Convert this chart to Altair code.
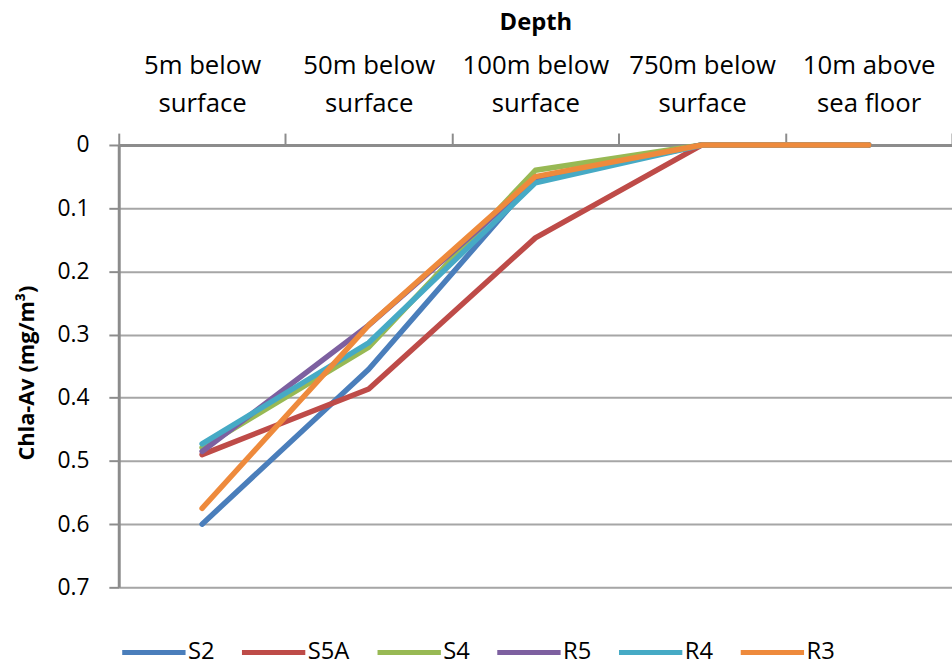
import altair as alt
import pandas as pd

# Categories (two-line labels)
depth_line1 = ["5m below", "50m below", "100m below", "750m below", "10m above"]
depth_line2 = ["surface", "surface", "surface", "surface", "sea floor"]
depths = [f"{a} {b}" for a, b in zip(depth_line1, depth_line2)]

# Series
series = ["S2", "S5A", "S4", "R5", "R4", "R3"]
s2 = [0.600, 0.355, 0.052, 0.0, 0.0]
s5a = [0.490, 0.386, 0.147, 0.0, 0.0]
s4 = [0.479, 0.320, 0.040, 0.0, 0.0]
r5 = [0.485, 0.285, 0.055, 0.0, 0.0]
r4 = [0.473, 0.313, 0.060, 0.0, 0.0]
r3 = [0.575, 0.285, 0.050, 0.0, 0.0]
values = [s2, s5a, s4, r5, r4, r3]

colors = ["#4A7EBB", "#BE4B48", "#98B954", "#7D60A0", "#46AAC5", "#EE8A3C"]
y_ticks = [0, 0.1, 0.2, 0.3, 0.4, 0.5, 0.6, 0.7]

rows = []
for name, vals in zip(series, values):
    for d, v in zip(depths, vals):
        rows.append({"Depth": d, "Station": name, "Chla": v})
df = pd.DataFrame(rows)

# label expression to break labels into two lines
expr = "''"
for d, a, b in reversed(list(zip(depths, depth_line1, depth_line2))):
    expr = f"datum.value == '{d}' ? ['{a}', '{b}'] : ({expr})"

FONT = "Open Sans"
GRAY = "#8C8C8C"

chart = alt.Chart(df).mark_line(
    strokeWidth=5.5, strokeCap="round", strokeJoin="round"
).encode(
    x=alt.X(
        "Depth:N",
        sort=depths,
        scale=alt.Scale(type="band", paddingInner=0, paddingOuter=0),
        axis=alt.Axis(
            orient="top",
            title="Depth",
            titleFont=FONT,
            titleFontSize=24,
            titleFontWeight="bold",
            titleColor="#000000",
            titleX=421,
            titleY=-124,
            titleBaseline="middle",
            titleAlign="center",
            labelExpr=expr,
            labelAngle=0,
            labelFont=FONT,
            labelFontSize=26,
            labelLineHeight=38,
            labelColor="#000000",
            labelPadding=55,
            tickBand="extent",
            tickSize=12,
            tickColor=GRAY,
            tickWidth=2,
            domainColor=GRAY,
            domainWidth=3,
            grid=False,
        ),
    ),
    y=alt.Y(
        "Chla:Q",
        scale=alt.Scale(domain=[0, 0.7], reverse=True, nice=False),
        axis=alt.Axis(
            title="Chla-Av (mg/m³)",
            titleFont=FONT,
            titleFontSize=22,
            titleFontWeight="bold",
            titleColor="#000000",
            titleAngle=270,
            titleX=-93,
            titleY=230,
            titleAlign="center",
            titleBaseline="middle",
            values=y_ticks,
            format=".1~f",
            labelFont=FONT,
            labelFontSize=23,
            labelColor="#000000",
            labelPadding=20,
            tickSize=10,
            tickColor=GRAY,
            tickWidth=2,
            domainColor=GRAY,
            domainWidth=3,
            grid=True,
            gridColor="#A6A6A6",
            gridWidth=2,
        ),
    ),
    color=alt.Color(
        "Station:N",
        sort=series,
        scale=alt.Scale(domain=series, range=colors),
        legend=alt.Legend(
            title=None,
            orient="none",
            direction="horizontal",
            columns=6,
            legendX=1,
            legendY=478,
            symbolType="stroke",
            symbolSize=4096,
            symbolStrokeWidth=5,
            labelFont=FONT,
            labelFontSize=24,
            labelColor="#000000",
            labelOffset=0,
            columnPadding=17,
            padding=0,
        ),
    ),
).properties(
    width=842,
    height=447,
    autosize=alt.AutoSizeParams(type="none"),
    padding={"left": 120, "top": 143, "right": 0, "bottom": 78},
).configure_view(stroke=None).configure(background="#FFFFFF")

chart.save("out.html", embed_options={"renderer": "svg", "actions": False})
